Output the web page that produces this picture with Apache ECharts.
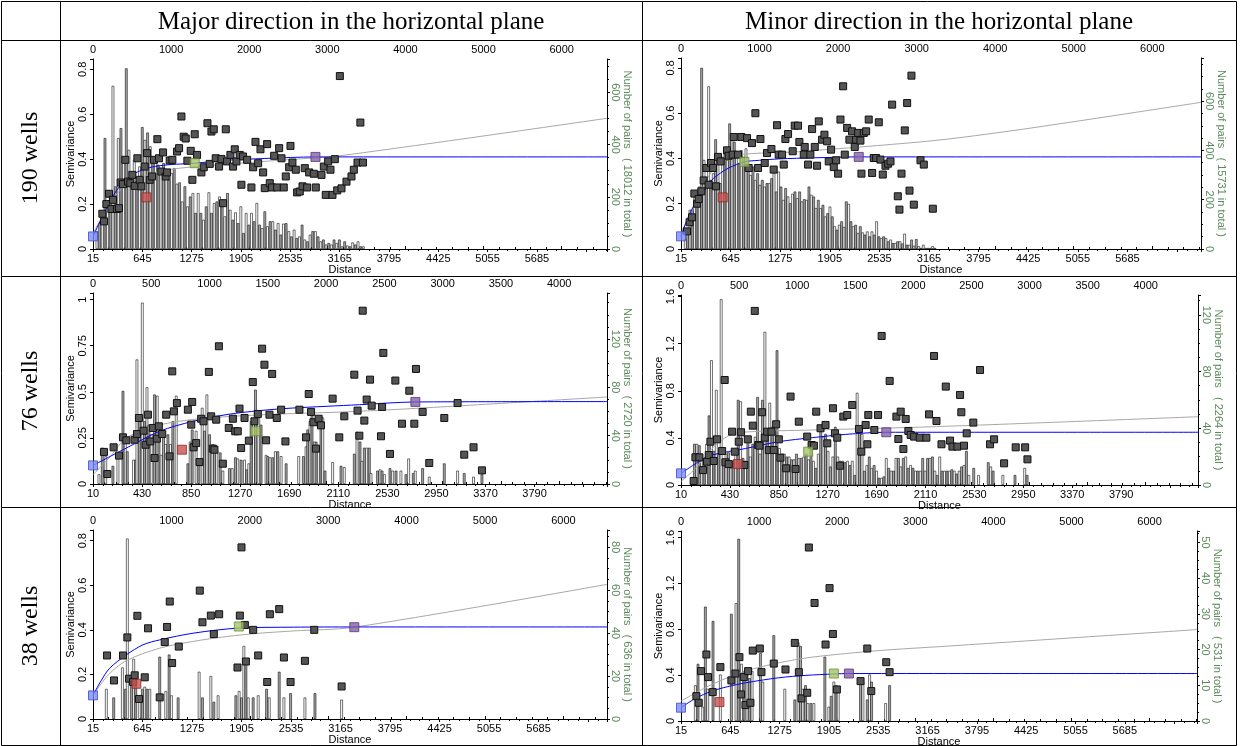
<!DOCTYPE html>
<html>
<head>
<meta charset="utf-8">
<script src="https://cdn.jsdelivr.net/npm/echarts@6/dist/echarts.min.js"></script>
<style>
  html, body { margin: 0; padding: 0; background: #fff; }
  #chart { width: 1241px; height: 746px; }
</style>
</head>
<body>
<div id="chart"></div>
<script>
// ---------- data ----------
// experimental variogram points: [distance, semivariance]
// bars: number of pairs per lag class
// model = blue fitted curve, trend = grey curve, handles = nugget / red / sill / range markers

// 190 wells, major direction
const tlBarStart = 51, tlBarStep = 34.1;
const tlBarPairs = [68,99,138,425,163,201,625,240,425,463,342,692,380,240,342,259,316,467,418,446,
  393,354,342,323,303,329,297,265,291,310,250,255,182,240,163,201,214,138,214,138,
  112,163,217,138,176,182,201,163,125,214,150,112,140,99,163,61,138,93,138,106,
  176,93,80,144,87,106,106,74,99,55,97,99,68,48,74,42,48,93,36,29,
  55,68,68,48,29,36,17,23,17,36,23,36,10,29,13,10,25,17,29,10,10];
const tlPoints = [[120,0.157],[141,0.123],[171,0.2],[205,0.246],[235,0.178],[256,0.219],[307,0.178],[333,0.182],
  [354,0.296],[384,0.289],[414,0.397],[448,0.3],[478,0.293],[504,0.33],[534,0.281],[568,0.404],[598,0.308],
  [619,0.279],[662,0.367],[692,0.427],[726,0.308],[756,0.323],[781,0.397],[824,0.489],[845,0.404],[875,0.345],
  [897,0.43],[931,0.323],[948,0.341],[982,0.394],[1016,0.397],[1076,0.434],[1102,0.449],[1132,0.59],[1161,0.5],
  [1187,0.492],[1208,0.393],[1251,0.437],[1272,0.308],[1302,0.511],[1332,0.419],[1388,0.341],[1418,0.364],
  [1465,0.56],[1494,0.379],[1516,0.523],[1546,0.533],[1571,0.404],[1614,0.367],[1644,0.401],[1665,0.204],
  [1700,0.533],[1716,0.39],[1759,0.419],[1793,0.367],[1815,0.444],[1836,0.39],[1879,0.419],[1900,0.286],
  [1921,0.412],[1973,0.397],[2028,0.274],[2050,0.364],[2080,0.477],[2114,0.382],[2144,0.444],[2178,0.341],
  [2199,0.271],[2229,0.467],[2263,0.293],[2293,0.274],[2319,0.415],[2357,0.274],[2383,0.449],[2413,0.404],
  [2442,0.274],[2468,0.323],[2511,0.364],[2528,0.459],[2553,0.385],[2596,0.353],[2613,0.252],[2647,0.256],
  [2682,0.279],[2711,0.36],[2741,0.274],[2767,0.341],[2827,0.335],[2852,0.274],[2925,0.33],[2955,0.367],
  [2980,0.241],[3010,0.39],[3040,0.353],[3066,0.241],[3096,0.4],[3126,0.261],[3160,0.77],[3181,0.27],
  [3245,0.3],[3309,0.323],[3339,0.353],[3386,0.385],[3423,0.563],[3456,0.385]];
const tlModel = [[0,0.056],[100,0.13],[200,0.2],[300,0.26],[400,0.3],[500,0.33],[650,0.355],[800,0.368],
  [1000,0.376],[1302,0.382],[1700,0.395],[2200,0.403],[2848,0.41],[6580,0.41]];
const tlTrend = [[0,0.07],[200,0.19],[400,0.28],[700,0.33],[1000,0.355],[1500,0.372],[2000,0.385],
  [2500,0.398],[3158,0.415],[6580,0.582]];
const tlHandles = [[0,0.056],[683,0.23],[1302,0.382],[2848,0.41]];

// 190 wells, minor direction
const trBarStart = 55, trBarStep = 29.7;
const trBarPairs = [40,65,159,159,213,206,253,735,361,280,660,280,307,445,381,267,374,401,361,509,
  442,435,388,348,401,374,408,321,300,334,280,307,260,280,253,267,267,287,310,233,
  314,253,199,247,213,186,224,233,206,233,193,202,199,253,220,213,166,199,166,179,
  132,145,172,132,92,78,98,112,89,193,183,112,92,98,65,92,67,58,71,51,
  71,58,112,51,44,51,44,31,38,24,24,31,31,22,62,17,17,38,13,40,
  11,4,17,4,4,4,11,4];
const trPoints = [[76,0.078],[110,0.118],[140,0.14],[170,0.245],[204,0.2],[225,0.221],[259,0.255],[289,0.303],
  [323,0.358],[352,0.284],[382,0.38],[408,0.358],[446,0.277],[471,0.407],[505,0.387],[586,0.436],[607,0.412],
  [658,0.417],[671,0.495],[726,0.417],[768,0.495],[841,0.49],[862,0.358],[904,0.468],[947,0.6],[981,0.358],
  [1011,0.486],[1066,0.38],[1095,0.424],[1151,0.442],[1180,0.351],[1223,0.547],[1244,0.417],[1287,0.417],
  [1308,0.373],[1329,0.486],[1363,0.508],[1422,0.432],[1448,0.545],[1490,0.545],[1507,0.473],[1563,0.417],
  [1575,0.451],[1618,0.373],[1647,0.417],[1669,0.53],[1703,0.451],[1732,0.368],[1754,0.564],[1796,0.483],
  [1826,0.505],[1860,0.476],[1881,0.387],[1911,0.439],[1945,0.362],[1975,0.392],[2000,0.333],[2030,0.572],
  [2064,0.719],[2085,0.417],[2115,0.535],[2144,0.483],[2178,0.52],[2212,0.451],[2229,0.483],[2255,0.513],
  [2284,0.479],[2297,0.333],[2327,0.513],[2357,0.52],[2390,0.572],[2433,0.336],[2454,0.402],[2484,0.402],
  [2518,0.56],[2539,0.395],[2569,0.329],[2603,0.368],[2637,0.377],[2667,0.387],[2688,0.638],[2760,0.233],
  [2781,0.174],[2807,0.333],[2849,0.524],[2879,0.645],[2909,0.258],[2934,0.766],[2964,0.196],[3049,0.392],
  [3091,0.373],[3206,0.178]];
const trModel = [[0,0.056],[90,0.14],[183,0.203],[300,0.26],[395,0.306],[500,0.335],[607,0.358],[807,0.385],
  [1000,0.392],[1244,0.398],[1700,0.403],[2263,0.407],[6620,0.407]];
const trTrend = [[0,0.07],[180,0.2],[350,0.32],[565,0.405],[1500,0.43],[2500,0.457],[3300,0.482],
  [4200,0.522],[5200,0.573],[6620,0.648]];
const trHandles = [[0,0.056],[531,0.228],[807,0.385],[2263,0.407]];

// 76 wells, major direction
const mlBars = [[51,8],[80,30],[109,23],[171,15],[214,26],[257,77],[277,35],[294,27],[348,20],[366,20],
  [377,103],[400,57],[423,150],[443,52],[463,80],[480,49],[500,41],[528,74],[551,73],[566,49],[585,24],
  [605,41],[623,33],[643,41],[665,33],[685,52],[714,73],[814,17],[834,35],[851,45],[885,44],[908,20],
  [937,63],[957,44],[977,74],[1000,41],[1028,33],[1042,31],[1062,28],[1091,26],[1114,11],[1171,13],
  [1194,13],[1222,22],[1242,21],[1271,20],[1300,20],[1319,12],[1337,17],[1357,52],[1377,51],[1394,78],
  [1422,55],[1442,49],[1485,24],[1499,23],[1519,22],[1542,22],[1565,27],[1585,27],[1614,23],[1657,17],
  [1765,23],[1805,23],[1828,31],[1842,45],[1862,52],[1879,62],[1899,35],[1914,35],[1936,30],[1956,56],
  [1971,55],[1991,11],[2056,18],[2128,15],[2156,14],[2242,25],[2265,43],[2291,35],[2308,19],[2328,30],
  [2348,30],[2371,30],[2385,9],[2442,11],[2463,12],[2480,11],[2500,8],[2548,13],[2571,11],[2600,11],
  [2642,11],[2685,8],[2708,21],[2748,9],[2765,11],[2828,13],[2885,6],[3014,17],[3128,11],[3185,9],
  [3265,6],[3337,8]];
const mlPoints = [[94,0.174],[123,0.054],[177,0.199],[223,0.154],[257,0.253],[286,0.237],[357,0.24],[377,0.271],
  [394,0.358],[434,0.289],[451,0.213],[471,0.376],[491,0.231],[514,0.304],[528,0.141],[548,0.246],[565,0.313],
  [594,0.271],[628,0.376],[657,0.15],[680,0.611],[694,0.394],[720,0.439],[814,0.403],[843,0.322],[851,0.445],
  [863,0.199],[885,0.222],[914,0.119],[928,0.354],[948,0.34],[994,0.608],[1014,0.367],[1028,0.192],
  [1042,0.186],[1057,0.349],[1080,0.747],[1114,0.11],[1165,0.304],[1200,0.354],[1220,0.286],[1242,0.286],
  [1257,0.409],[1271,0.195],[1300,0.358],[1337,0.235],[1371,0.553],[1385,0.34],[1414,0.38],[1451,0.734],
  [1471,0.647],[1485,0.237],[1514,0.376],[1537,0.597],[1577,0.358],[1614,0.403],[1651,0.231],[1771,0.403],
  [1828,0.253],[1851,0.488],[1871,0.391],[1891,0.335],[1913,0.192],[1936,0.354],[1956,0.318],[2056,0.463],
  [2113,0.253],[2156,0.367],[2242,0.593],[2270,0.398],[2285,0.262],[2314,0.94],[2328,0.344],[2348,0.458],
  [2377,0.566],[2391,0.425],[2471,0.259],[2480,0.418],[2491,0.711],[2548,0.163],[2594,0.561],[2651,0.327],
  [2714,0.506],[2757,0.327],[2771,0.624],[2828,0.391],[2885,0.114],[3014,0.358],[3128,0.439],[3185,0.159],
  [3265,0.199],[3337,0.074]];
const mlModel = [[0,0.101],[286,0.195],[571,0.286],[857,0.34],[1142,0.376],[1428,0.398],[1714,0.412],
  [2285,0.43],[2766,0.445],[4410,0.447]];
const mlTrend = [[0,0.05],[150,0.15],[286,0.25],[571,0.32],[857,0.35],[1142,0.365],[1428,0.375],
  [1714,0.382],[2114,0.39],[2766,0.41],[4410,0.472]];
const mlHandles = [[0,0.101],[763,0.186],[1394,0.286],[2766,0.445]];

// 76 wells, minor direction
const mrBarStart = 95, mrBarStep = 20.9;
const mrBarPairs = [3,29,29,28,22,18,29,49,88,24,67,22,131,17,22,23,12,17,22,60,
  59,19,17,31,20,29,34,62,22,60,108,36,58,41,38,95,26,22,22,20,
  20,18,18,22,19,19,20,22,18,26,17,12,22,41,34,36,24,13,20,41,
  20,17,17,16,17,14,17,7,65,41,36,10,14,20,12,14,10,5,5,6,
  19,12,10,10,19,19,13,19,20,12,14,12,10,10,10,19,10,19,19,20,
  10,7,20,10,10,10,10,11,10,8,10,13,14,24,7,0,12,0,7,0,0,0,16,13,10,0,0,0,7,0,0,0,0,7,0,0,0,12,7];
const mrPoints = [[109,0.034],[124,0.235],[158,0.235],[190,0.127],[224,0.198],[239,0.255],[253,0.368],[282,0.204],
  [310,0.388],[354,0.289],[376,0.892],[382,0.193],[411,0.178],[440,0.453],[463,0.283],[497,0.368],[517,0.448],
  [546,0.17],[575,0.388],[601,0.623],[618,0.504],[635,1.479],[664,0.34],[675,0.334],[698,0.618],[721,0.402],
  [741,0.453],[756,0.297],[779,0.453],[799,0.297],[819,0.516],[842,0.388],[856,0.232],[905,0.142],[943,0.751],
  [986,0.136],[1014,0.538],[1086,0.411],[1124,0.34],[1144,0.334],[1164,0.623],[1201,0.482],[1244,0.51],
  [1259,0.354],[1308,0.652],[1325,0.439],[1345,0.402],[1368,0.164],[1397,0.581],[1431,0.595],[1474,0.68],
  [1532,0.476],[1552,0.283],[1589,0.51],[1604,0.346],[1612,0.595],[1664,0.467],[1696,0.595],[1727,1.266],
  [1796,0.884],[1854,0.581],[1871,0.391],[1891,0.623],[1914,0.306],[1934,0.561],[1957,0.459],[1977,0.425],
  [2006,0.411],[2055,0.402],[2112,0.402],[2135,0.6],[2178,1.096],[2199,0.544],[2242,0.346],[2279,0.836],
  [2316,0.377],[2336,0.326],[2379,0.326],[2402,0.765],[2413,0.618],[2436,0.334],[2459,0.439],[2516,0.53],
  [2574,0.977],[2660,0.346],[2695,0.388],[2781,0.184],[2881,0.32],[2962,0.32],[2982,0.218]];
const mrModel = [[0,0.099],[100,0.165],[180,0.215],[267,0.255],[555,0.31],[842,0.368],[1129,0.402],
  [1417,0.43],[1767,0.448],[4450,0.448]];
const mrTrend = [[0,0.03],[124,0.14],[267,0.31],[411,0.42],[555,0.45],[1129,0.467],[2200,0.496],[4450,0.58]];
const mrHandles = [[0,0.099],[489,0.178],[1095,0.283],[1767,0.448]];

// 38 wells, major direction
const blBars = [[170,14],[264,10],[375,24],[413,14],[438,84],[490,20],[519,28],[545,19],[596,10],[630,14],
  [660,15],[690,14],[724,14],[851,29],[928,13],[971,30],[1000,11],[1086,10],[1354,22],[1396,10],[1503,20],
  [1541,8],[1596,11],[1822,11],[1864,13],[1894,10],[1924,34],[1950,28],[1980,10],[2043,10],[2107,11],
  [2214,14],[2248,10],[2375,22],[2435,10],[2520,12],[2703,10],[2831,12],[3171,9]];
const blPoints = [[179,0.285],[268,0.173],[383,0.285],[438,0.366],[460,0.181],[511,0.166],[532,0.196],
  [566,0.463],[587,0.09],[660,0.187],[702,0.407],[851,0.097],[915,0.345],[945,0.413],[979,0.527],
  [1009,0.251],[1094,0.325],[1362,0.576],[1396,0.434],[1503,0.464],[1541,0.381],[1609,0.47],[1843,0.231],
  [1873,0.464],[1894,0.77],[1937,0.422],[1950,0.258],[2043,0.4],[2107,0.285],[2222,0.166],[2256,0.47],
  [2375,0.493],[2435,0.276],[2520,0.166],[2703,0.261],[2822,0.4],[3171,0.146]];
const blModel = [[0,0.106],[100,0.17],[213,0.228],[426,0.288],[638,0.333],[851,0.355],[1277,0.385],
  [1860,0.408],[2554,0.412],[3333,0.413],[6556,0.413]];
const blTrend = [[0,0.106],[200,0.2],[426,0.262],[851,0.318],[1277,0.348],[1700,0.37],[2130,0.385],
  [2554,0.395],[3333,0.412],[6556,0.604]];
const blHandles = [[0,0.106],[553,0.158],[1860,0.415],[3333,0.412]];

// 38 wells, minor direction
const brBars = [[184,10],[218,16],[278,4],[312,32],[342,9],[410,28],[504,13],[645,30],[705,33],[739,51],
  [774,16],[808,14],[846,14],[876,12],[910,14],[1017,19],[1047,11],[1188,24],[1329,9],[1457,6],[1500,22],
  [1530,21],[1560,9],[1594,10],[1624,5],[1663,5],[1701,5],[1842,18],[1893,4],[1923,7],[1957,11],[1987,10],
  [2013,9],[2299,11],[2329,11],[2385,6],[2415,13],[2440,11],[2620,5],[2671,10]];
const brPoints = [[197,0.217],[227,0.159],[256,0.435],[325,0.58],[346,0.383],[406,0.252],[504,0.47],
  [645,0.354],[697,0.414],[748,0.557],[769,0.232],[804,0.383],[825,0.139],[859,0.435],[889,0.159],
  [919,0.614],[1009,0.632],[1030,0.426],[1188,0.501],[1338,0.449],[1457,0.681],[1509,0.426],[1543,0.197],
  [1616,0.246],[1637,1.513],[1710,1.029],[1851,0.667],[1902,1.159],[1945,0.759],[1996,0.275],[2299,0.348],
  [2385,0.632],[2436,0.261],[2628,0.513],[2671,0.426]];
const brModel = [[0,0.116],[184,0.197],[397,0.261],[600,0.3],[825,0.333],[1252,0.377],[1600,0.398],
  [1957,0.41],[2150,0.414],[6607,0.414]];
const brTrend = [[0,0.174],[397,0.319],[825,0.435],[1252,0.507],[1680,0.557],[2535,0.614],[3389,0.652],
  [6607,0.797]];
const brHandles = [[0,0.116],[492,0.165],[1957,0.414],[2150,0.414]];

const totals = [18012, 15731, 2720, 2264, 636, 531];
const columnTitles = ['Major direction in the horizontal plane', 'Minor direction in the horizontal plane'];
const rowTitles = ['190 wells', '76 wells', '38 wells'];

// ---------- helpers ----------
function binned(start, step, counts) {
  const out = [];
  counts.forEach((n, i) => { if (n > 0) out.push([start + i * step, n]); });
  return out;
}

const panels = [
  { box: [93, 59, 514, 190], xMax: 6580, lag: [15, 630, 5685], topStep: 1000, semi: [0.846, 0.2], pairs: [728, 200],
    bars: binned(tlBarStart, tlBarStep, tlBarPairs), points: tlPoints, model: tlModel, trend: tlTrend, handles: tlHandles },
  { box: [681, 58, 520, 191], xMax: 6620, lag: [15, 630, 5685], topStep: 1000, semi: [0.844, 0.2], pairs: [775, 200],
    bars: binned(trBarStart, trBarStep, trBarPairs), points: trPoints, model: trModel, trend: trTrend, handles: trHandles },
  { box: [93, 293, 514, 191], xMax: 4410, lag: [10, 420, 3790], topStep: 500, semi: [1.036, 0.25], pairs: [158, 40],
    bars: mlBars, points: mlPoints, model: mlModel, trend: mlTrend, handles: mlHandles },
  { box: [681, 295, 517, 190], xMax: 4450, lag: [10, 420, 3790], topStep: 500, semi: [1.614, 0.4], pairs: [134, 40],
    bars: binned(mrBarStart, mrBarStep, mrBarPairs), points: mrPoints, model: mrModel, trend: mrTrend, handles: mrHandles },
  { box: [93, 530, 514, 189], xMax: 6556, lag: [15, 630, 5685], topStep: 1000, semi: [0.848, 0.2], pairs: [88, 20],
    bars: blBars, points: blPoints, model: blModel, trend: blTrend, handles: blHandles },
  { box: [681, 531, 516, 190], xMax: 6607, lag: [15, 630, 5685], topStep: 1000, semi: [1.657, 0.4], pairs: [53.2, 10],
    bars: brBars, points: brPoints, model: brModel, trend: brTrend, handles: brHandles }
];

const FONT = 'Liberation Sans';
const GREEN = '#5a8a5a';
const BLUE = '#0000ff';
const handleColors = [['#7b8cff', '#3c4cc8'], ['#cc5050', '#8a2a2a'], ['#a4c468', '#6a8a3a'], ['#8462a6', '#543878']];

const multipleOf = step => v => {
  const k = v / step;
  return Math.abs(k - Math.round(k)) < 1e-6 ? String(+v.toFixed(4)) : '';
};
const line = { show: true, lineStyle: { color: '#000', width: 1 } };
const tick = { show: true, length: 3, lineStyle: { color: '#000', width: 1 } };
const minor = n => ({ show: true, splitNumber: n, length: 2, lineStyle: { color: '#000', width: 1 } });

const grid = [], xAxis = [], yAxis = [], series = [];

panels.forEach((p, i) => {
  grid.push({ left: p.box[0], top: p.box[1], width: p.box[2], height: p.box[3],
    containLabel: false, outerBoundsMode: 'none', show: false });

  // bottom: lag-class labels
  xAxis.push({ type: 'value', gridIndex: i, position: 'bottom', min: p.lag[0], max: p.xMax, interval: p.lag[1],
    axisLine: line, axisTick: tick, minorTick: minor(5), splitLine: { show: false },
    axisLabel: { fontFamily: FONT, fontSize: 11, color: '#000', margin: 4,
      formatter: v => (v <= p.lag[2] + 0.5 ? String(Math.round(v)) : '') },
    name: 'Distance', nameLocation: 'middle', nameGap: 15, nameMoveOverlap: false,
    nameTextStyle: { fontFamily: FONT, fontSize: 11, color: '#000' } });
  // top: plain distance
  xAxis.push({ type: 'value', gridIndex: i, position: 'top', min: 0, max: p.xMax, interval: p.topStep,
    axisLine: line, axisTick: tick, minorTick: minor(5), splitLine: { show: false },
    axisLabel: { fontFamily: FONT, fontSize: 11, color: '#000', margin: 4, formatter: multipleOf(p.topStep) } });

  yAxis.push({ type: 'value', gridIndex: i, position: 'left', min: 0, max: p.semi[0], interval: p.semi[1],
    axisLine: line, axisTick: tick, splitLine: { show: false },
    axisLabel: { fontFamily: FONT, fontSize: 11, color: '#000', margin: 5, rotate: 90, formatter: multipleOf(p.semi[1]) },
    name: 'Semivariance', nameLocation: 'middle', nameRotate: 90, nameGap: 17, nameMoveOverlap: false,
    nameTextStyle: { fontFamily: FONT, fontSize: 11, color: '#000' } });
  yAxis.push({ type: 'value', gridIndex: i, position: 'right', min: 0, max: p.pairs[0], interval: p.pairs[1],
    axisLine: line, axisTick: tick, minorTick: minor(4), splitLine: { show: false },
    axisLabel: { fontFamily: FONT, fontSize: 11, color: GREEN, margin: 3, rotate: -90, formatter: multipleOf(p.pairs[1]) },
    name: 'Number of pairs   ( ' + totals[i] + ' in total )', nameLocation: 'middle', nameRotate: -90, nameGap: 15,
    nameMoveOverlap: false, nameTextStyle: { fontFamily: FONT, fontSize: 11, color: GREEN } });

  const xb = 2 * i + 1, yl = 2 * i, yr = 2 * i + 1;
  series.push({ type: 'bar', xAxisIndex: xb, yAxisIndex: yr, barWidth: 2.6, silent: true, z: 1,
    itemStyle: { borderColor: '#111', borderWidth: 0.6 },
    data: p.bars.map((b, k) => ({ value: b, itemStyle: { color: k % 2 ? '#a8a8a8' : '#ffffff' } })) });
  series.push({ type: 'line', xAxisIndex: xb, yAxisIndex: yl, data: p.trend, smooth: 0.3,
    showSymbol: false, silent: true, z: 2, lineStyle: { color: '#a8a8a8', width: 1 } });
  series.push({ type: 'line', xAxisIndex: xb, yAxisIndex: yl, data: p.model, smooth: 0.3,
    showSymbol: false, silent: true, z: 3, lineStyle: { color: BLUE, width: 1 } });
  series.push({ type: 'scatter', xAxisIndex: xb, yAxisIndex: yl, data: p.points, symbol: 'rect', symbolSize: 7,
    silent: true, z: 4, itemStyle: { color: '#555', borderColor: '#111', borderWidth: 1, opacity: 1 } });
  series.push({ type: 'scatter', xAxisIndex: xb, yAxisIndex: yl, symbol: 'rect', symbolSize: 9, clip: false,
    silent: true, z: 5,
    data: p.handles.map((h, k) => ({ value: h,
      itemStyle: { color: handleColors[k][0], borderColor: handleColors[k][1], borderWidth: 1 } })) });
});

// ---------- table frame and headings ----------
const W = 1236.5, H = 745.5;
const seg = (x1, y1, x2, y2) => ({ type: 'line', silent: true, z: 10,
  shape: { x1, y1, x2, y2 }, style: { stroke: '#000', lineWidth: 1 } });
const graphic = [
  seg(1.5, 1.5, W, 1.5), seg(1.5, H, W, H), seg(1.5, 1.5, 1.5, H), seg(W, 1.5, W, H),
  seg(1.5, 40.5, W, 40.5), seg(1.5, 276.5, W, 276.5), seg(1.5, 507.5, W, 507.5),
  seg(60.5, 1.5, 60.5, H), seg(642.5, 1.5, 642.5, H)
];
const serif = size => size + 'px "Liberation Serif", "Times New Roman", serif';
[351, 939].forEach((cx, k) => graphic.push({ type: 'text', x: cx, y: 22, silent: true,
  style: { text: columnTitles[k], font: serif(25), fill: '#000', textAlign: 'center', textVerticalAlign: 'middle' } }));
[158, 391, 626].forEach((cy, k) => graphic.push({ type: 'text', x: 31, y: cy, rotation: Math.PI / 2, silent: true,
  style: { text: rowTitles[k], font: serif(24), fill: '#000', textAlign: 'center', textVerticalAlign: 'middle' } }));

const chart = echarts.init(document.getElementById('chart'));
chart.setOption({ animation: false, backgroundColor: '#fff', grid, xAxis, yAxis, series, graphic });
</script>
</body>
</html>
